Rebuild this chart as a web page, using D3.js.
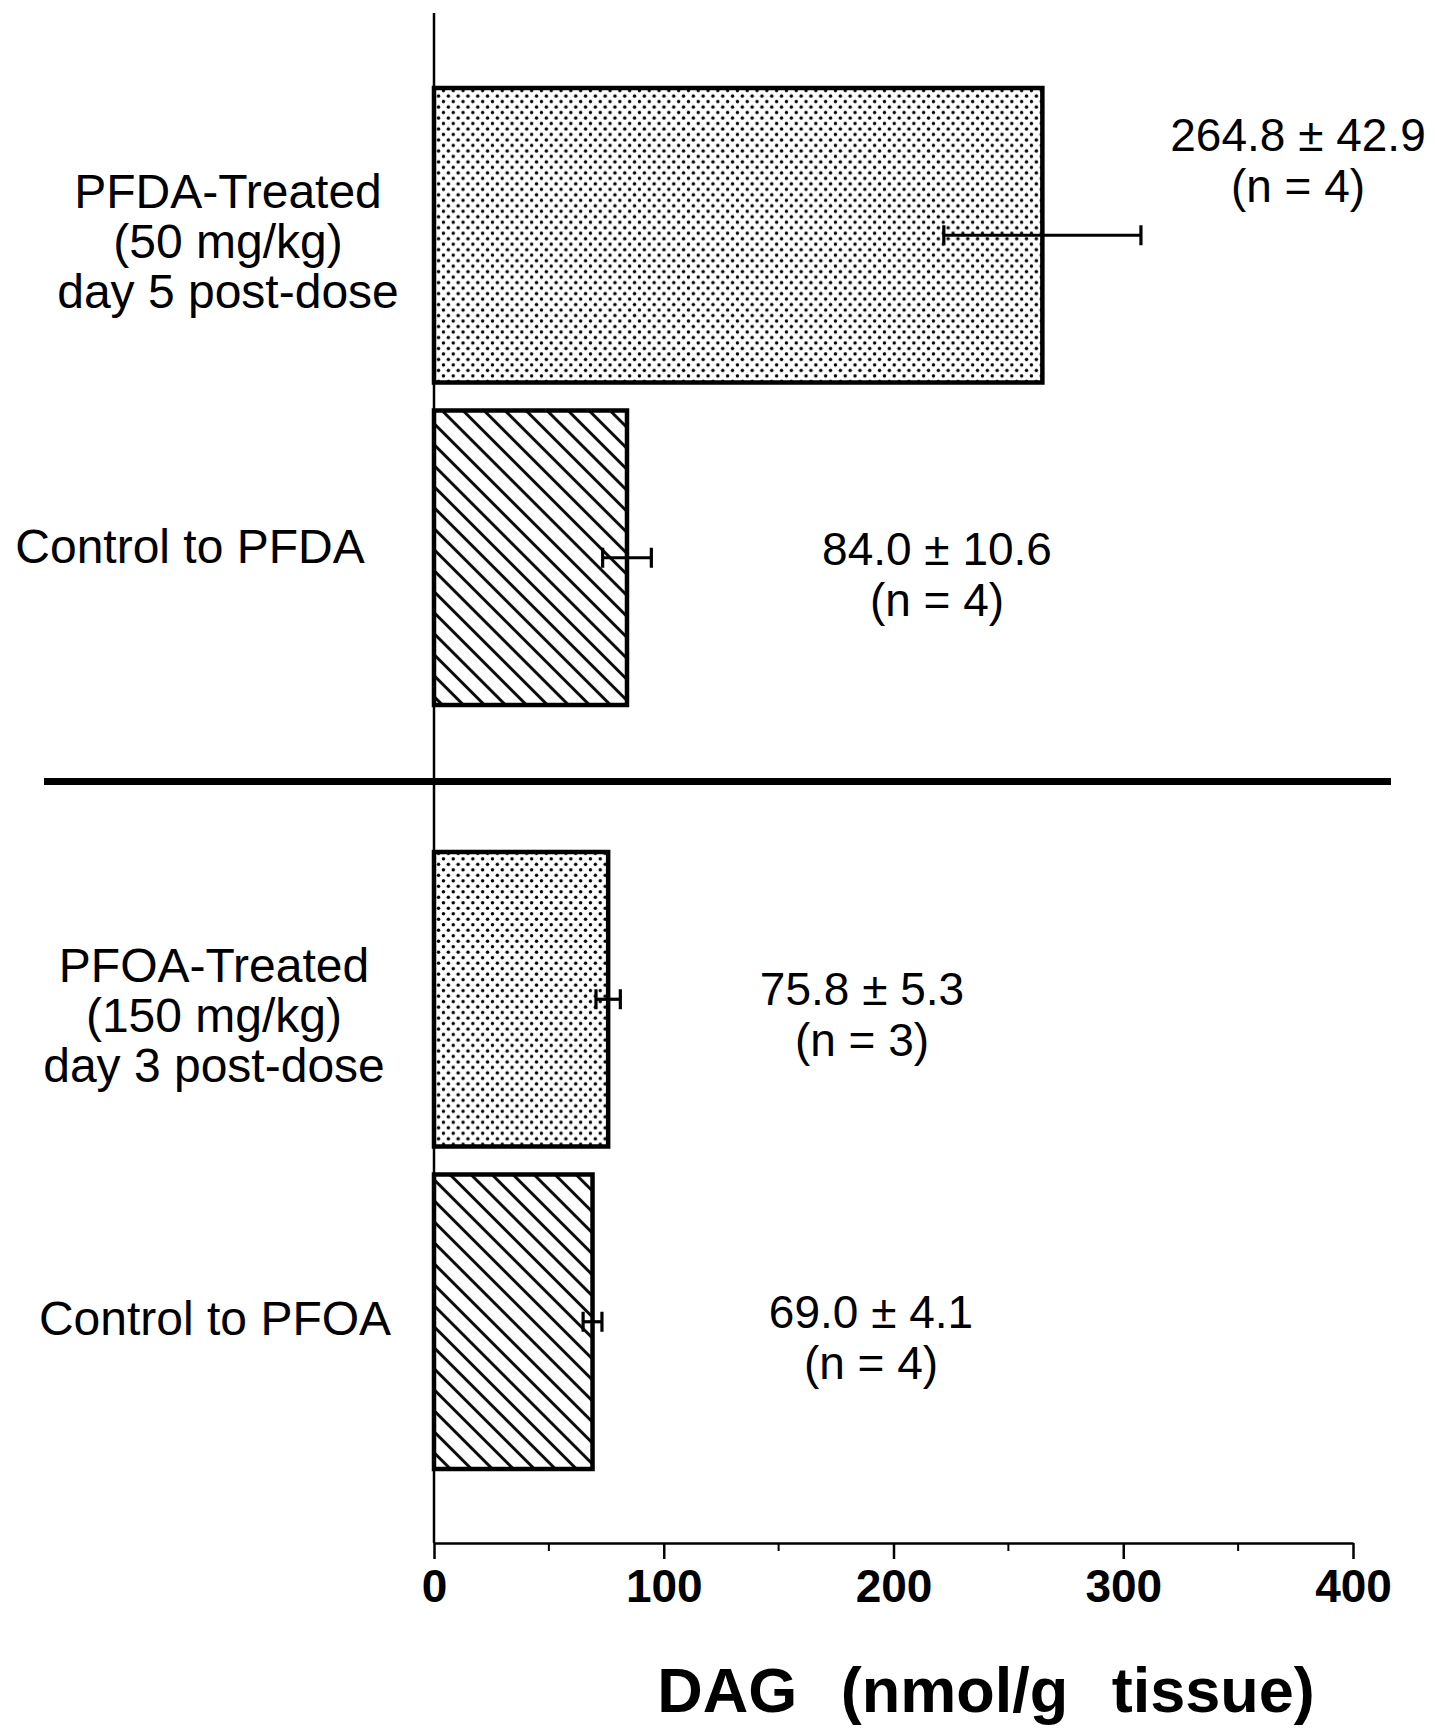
<!DOCTYPE html>
<html>
<head>
<meta charset="utf-8">
<script src="https://cdn.jsdelivr.net/npm/d3@7"></script>
<style>
  body { margin: 0; background: #fff; }
  svg { display: block; font-family: "Liberation Sans", Arial, sans-serif; }
</style>
</head>
<body>
<svg width="1435" height="1728"></svg>
<script>
const groups = ["PFDA", "PFOA"];
const categories = ["PFDA-Treated", "Control to PFDA", "PFOA-Treated", "Control to PFOA"];
const categoryGroup = ["PFDA", "PFDA", "PFOA", "PFOA"];
const categoryKind = ["treated", "control", "treated", "control"];
const means = [264.8, 84.0, 75.8, 69.0];
const sems = [42.9, 10.6, 5.3, 4.1];
const counts = [4, 4, 3, 4];
const labelLines = [
  ["PFDA-Treated", "(50 mg/kg)", "day 5 post-dose"],
  ["Control to PFDA"],
  ["PFOA-Treated", "(150 mg/kg)", "day 3 post-dose"],
  ["Control to PFOA"]
];
const xTicks = [0, 100, 200, 300, 400];
const xMinorTicks = [50, 150, 250, 350];

// text placement (label centre x, offsets from bar centre)
const labelLayout = [
  { x: 228, dy: 6 },
  { x: 190, dy: -12 },
  { x: 214, dy: 16 },
  { x: 215, dy: -4 }
];
const noteLayout = [
  { x: 1298, dy: -76 },
  { x: 937, dy: 15 },
  { x: 862, dy: 14 },
  { x: 871, dy: 14 }
];

const svg = d3.select("svg");
const data = categories.map((c, i) => ({
  name: c, group: categoryGroup[i], kind: categoryKind[i],
  mean: means[i], sem: sems[i], n: counts[i], lines: labelLines[i]
}));

const axisY = 1543;
const xScale = d3.scaleLinear().domain([0, 400]).range([434, 1353]);
const groupScale = d3.scaleBand().domain(groups).range([88, 1469]).paddingInner(0.1924);
const innerScale = d3.scaleBand().domain(["treated", "control"])
  .range([0, groupScale.bandwidth()]).paddingInner(0.0868);
const yTop = (d) => groupScale(d.group) + innerScale(d.kind);
const yMid = (d) => yTop(d) + innerScale.bandwidth() / 2;

// patterns
const defs = svg.append("defs");
const dotStep = 9.8;
const dots = defs.append("pattern").attr("id", "dots")
  .attr("patternUnits", "userSpaceOnUse").attr("width", dotStep).attr("height", dotStep * 1.12);
dots.append("rect").attr("width", dotStep).attr("height", dotStep * 1.12).attr("fill", "#fff");
dots.append("circle").attr("cx", dotStep / 4).attr("cy", dotStep * 0.28).attr("r", 1.75).attr("fill", "#000");
dots.append("circle").attr("cx", dotStep * 3 / 4).attr("cy", dotStep * 0.84).attr("r", 1.75).attr("fill", "#000");

const hatchStep = 14.85;
const hatch = defs.append("pattern").attr("id", "hatch")
  .attr("patternUnits", "userSpaceOnUse").attr("width", hatchStep).attr("height", hatchStep)
  .attr("patternTransform", "rotate(-45)");
hatch.append("rect").attr("width", hatchStep).attr("height", hatchStep).attr("fill", "#fff");
hatch.append("line").attr("x1", hatchStep / 2).attr("y1", 0)
  .attr("x2", hatchStep / 2).attr("y2", hatchStep)
  .attr("stroke", "#000").attr("stroke-width", 2.8);

// bars
svg.append("g").selectAll("rect")
  .data(data)
  .join("rect")
  .attr("x", xScale(0))
  .attr("y", yTop)
  .attr("width", (d) => xScale(d.mean) - xScale(0))
  .attr("height", innerScale.bandwidth())
  .attr("fill", (d) => d.kind === "treated" ? "url(#dots)" : "url(#hatch)")
  .attr("stroke", "#000")
  .attr("stroke-width", 4.5);

// error bars
const err = svg.append("g").attr("stroke", "#000").attr("stroke-width", 3.2);
err.selectAll("line.h").data(data).join("line").attr("class", "h")
  .attr("x1", (d) => xScale(d.mean - d.sem)).attr("x2", (d) => xScale(d.mean + d.sem))
  .attr("y1", yMid).attr("y2", yMid);
err.selectAll("line.l").data(data).join("line").attr("class", "l")
  .attr("x1", (d) => xScale(d.mean - d.sem)).attr("x2", (d) => xScale(d.mean - d.sem))
  .attr("y1", (d) => yMid(d) - 10).attr("y2", (d) => yMid(d) + 10);
err.selectAll("line.r").data(data).join("line").attr("class", "r")
  .attr("x1", (d) => xScale(d.mean + d.sem)).attr("x2", (d) => xScale(d.mean + d.sem))
  .attr("y1", (d) => yMid(d) - 10).attr("y2", (d) => yMid(d) + 10);

// vertical axis line
svg.append("line").attr("x1", xScale(0)).attr("x2", xScale(0))
  .attr("y1", 13).attr("y2", axisY).attr("stroke", "#000").attr("stroke-width", 2.5);

// separator between experiments
const sepY = groupScale("PFOA") - groupScale.step() * groupScale.paddingInner() / 2 + 3;
svg.append("line").attr("x1", 44).attr("x2", 1391).attr("y1", sepY).attr("y2", sepY)
  .attr("stroke", "#000").attr("stroke-width", 7);

// x axis
const xAxis = d3.axisBottom(xScale).tickValues(xTicks).tickSize(16).tickPadding(10)
  .tickSizeOuter(0);
const xAxisG = svg.append("g").attr("transform", `translate(0,${axisY})`).call(xAxis);
xAxisG.select(".domain").attr("stroke-width", 2.5);
xAxisG.selectAll(".tick line").attr("stroke-width", 2.5);
xAxisG.selectAll(".tick text")
  .attr("font-family", "'Liberation Sans', Arial, sans-serif")
  .attr("font-weight", "bold").attr("font-size", 46).attr("fill", "#000");
svg.append("g").selectAll("line").data(xMinorTicks).join("line")
  .attr("x1", xScale).attr("x2", xScale)
  .attr("y1", axisY).attr("y2", axisY + 8)
  .attr("stroke", "#000").attr("stroke-width", 2);

svg.append("text")
  .attr("x", 986).attr("y", 1712)
  .attr("text-anchor", "middle")
  .attr("font-weight", "bold").attr("font-size", 63)
  .attr("word-spacing", 26)
  .text("DAG (nmol/g tissue)");

// category labels
svg.append("g").selectAll("text")
  .data(data)
  .join("text")
  .attr("text-anchor", "middle")
  .attr("font-size", 48)
  .attr("fill", "#000")
  .each(function (d, i) {
    const t = d3.select(this);
    const lh = 50;
    const y0 = yMid(d) + labelLayout[i].dy - (d.lines.length - 1) * lh / 2 + 17;
    d.lines.forEach((line, j) => {
      t.append("tspan").attr("x", labelLayout[i].x).attr("y", y0 + j * lh).text(line);
    });
  });

// value notes
svg.append("g").selectAll("text")
  .data(data)
  .join("text")
  .attr("text-anchor", "middle")
  .attr("font-size", 46)
  .attr("fill", "#000")
  .each(function (d, i) {
    const t = d3.select(this);
    const y0 = yMid(d) + noteLayout[i].dy - 25 + 17;
    t.append("tspan").attr("x", noteLayout[i].x).attr("y", y0)
      .text(`${d.mean.toFixed(1)} ± ${d.sem.toFixed(1)}`);
    t.append("tspan").attr("x", noteLayout[i].x).attr("y", y0 + 51)
      .text(`(n = ${d.n})`);
  });
</script>
</body>
</html>
